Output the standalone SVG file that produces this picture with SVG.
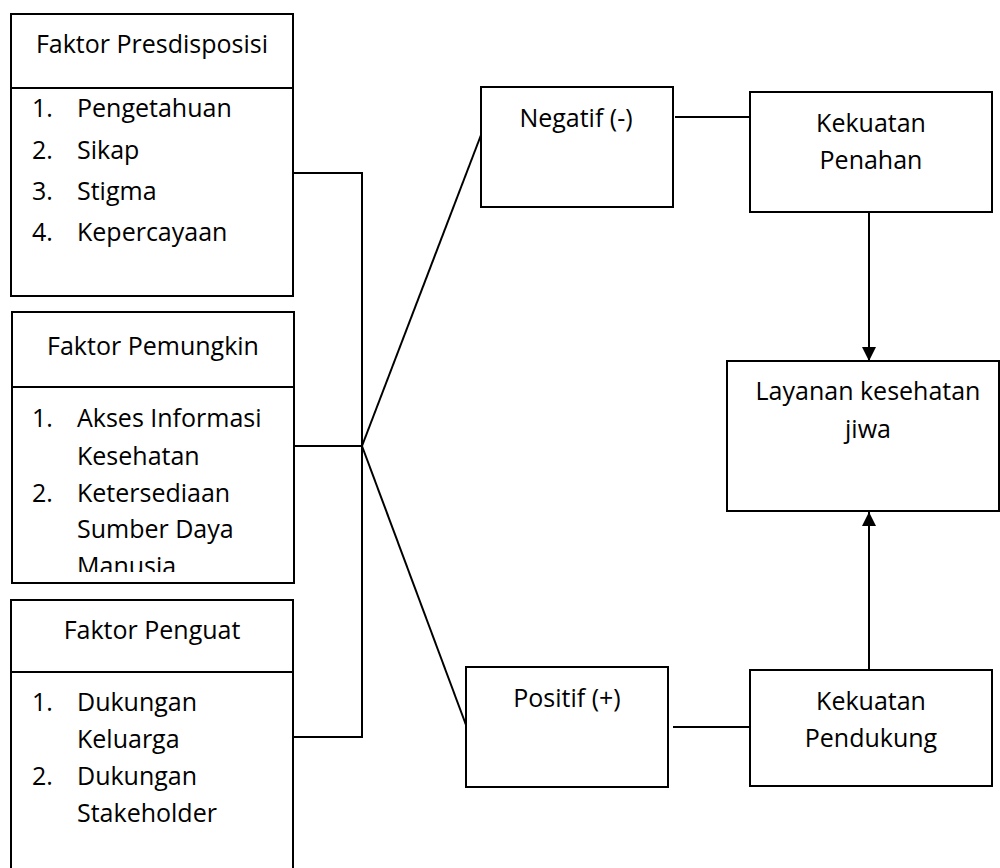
<svg xmlns="http://www.w3.org/2000/svg" width="1000" height="868" viewBox="0 0 1000 868">
<style>
.box{fill:#fff;stroke:#000;stroke-width:2}
.ln{fill:none;stroke:#000;stroke-width:2}
text{font-family:"Open Sans","Noto Sans","Liberation Sans",sans-serif;font-size:25px;fill:#000}
.c{text-anchor:middle}
</style>
<defs>
<marker id="ah" viewBox="0 0 14 14" refX="14" refY="7" markerWidth="14" markerHeight="14" markerUnits="userSpaceOnUse" orient="auto">
<path d="M0,0 L14,7 L0,14 Z" fill="#000"/>
</marker>
<clipPath id="clip2"><rect x="11" y="388" width="283" height="184"/></clipPath>
</defs>
<g id="connectors">
<line class="ln" x1="293" y1="173" x2="362" y2="173"/>
<line class="ln" x1="294" y1="446" x2="362" y2="446"/>
<line class="ln" x1="293" y1="737" x2="362" y2="737"/>
<line class="ln" x1="362" y1="172" x2="362" y2="738"/>
<line class="ln" x1="362" y1="446" x2="481" y2="135"/>
<line class="ln" x1="362" y1="446" x2="466" y2="725"/>
<line class="ln" x1="675" y1="117" x2="750" y2="117"/>
<line class="ln" x1="673" y1="727" x2="750" y2="727"/>
<line class="ln" x1="869" y1="212" x2="869" y2="361" marker-end="url(#ah)"/>
<line class="ln" x1="869" y1="670" x2="869" y2="512" marker-end="url(#ah)"/>
</g>
<g id="faktor-presdisposisi">
<rect class="box" x="11" y="14" width="282" height="282"/>
<line class="ln" x1="11" y1="88" x2="293" y2="88"/>
<text class="c" x="152" y="53">Faktor Presdisposisi</text>
<text x="32" y="117">1.</text><text x="77" y="117">Pengetahuan</text>
<text x="32" y="159">2.</text><text x="77" y="159">Sikap</text>
<text x="32" y="200">3.</text><text x="77" y="200">Stigma</text>
<text x="32" y="241">4.</text><text x="77" y="241">Kepercayaan</text>
</g>
<g id="faktor-pemungkin">
<rect class="box" x="12" y="312" width="282" height="271"/>
<line class="ln" x1="12" y1="387" x2="294" y2="387"/>
<text class="c" x="153" y="355">Faktor Pemungkin</text>
<g clip-path="url(#clip2)">
<text x="32" y="427">1.</text><text x="77" y="427">Akses Informasi</text>
<text x="77" y="465">Kesehatan</text>
<text x="32" y="502">2.</text><text x="77" y="502">Ketersediaan</text>
<text x="77" y="538">Sumber Daya</text>
<text x="77" y="575">Manusia</text>
</g>
</g>
<g id="faktor-penguat">
<rect class="box" x="11" y="600" width="282" height="290"/>
<line class="ln" x1="11" y1="672" x2="293" y2="672"/>
<text class="c" x="152" y="639">Faktor Penguat</text>
<text x="32" y="711">1.</text><text x="77" y="711">Dukungan</text>
<text x="77" y="748">Keluarga</text>
<text x="32" y="785">2.</text><text x="77" y="785">Dukungan</text>
<text x="77" y="822">Stakeholder</text>
</g>
<g id="negatif">
<rect class="box" x="481" y="87" width="192" height="120"/>
<text class="c" x="576" y="127">Negatif (-)</text>
</g>
<g id="positif">
<rect class="box" x="466" y="667" width="202" height="120"/>
<text class="c" x="567" y="707">Positif (+)</text>
</g>
<g id="kekuatan-penahan">
<rect class="box" x="750" y="92" width="242" height="120"/>
<text class="c" x="871" y="132">Kekuatan</text>
<text class="c" x="871" y="169">Penahan</text>
</g>
<g id="layanan">
<rect class="box" x="727" y="361" width="272" height="150"/>
<text class="c" x="868" y="400">Layanan kesehatan</text>
<text class="c" x="868" y="438">jiwa</text>
</g>
<g id="kekuatan-pendukung">
<rect class="box" x="750" y="670" width="242" height="116"/>
<text class="c" x="871" y="710">Kekuatan</text>
<text class="c" x="871" y="747">Pendukung</text>
</g>
</svg>
